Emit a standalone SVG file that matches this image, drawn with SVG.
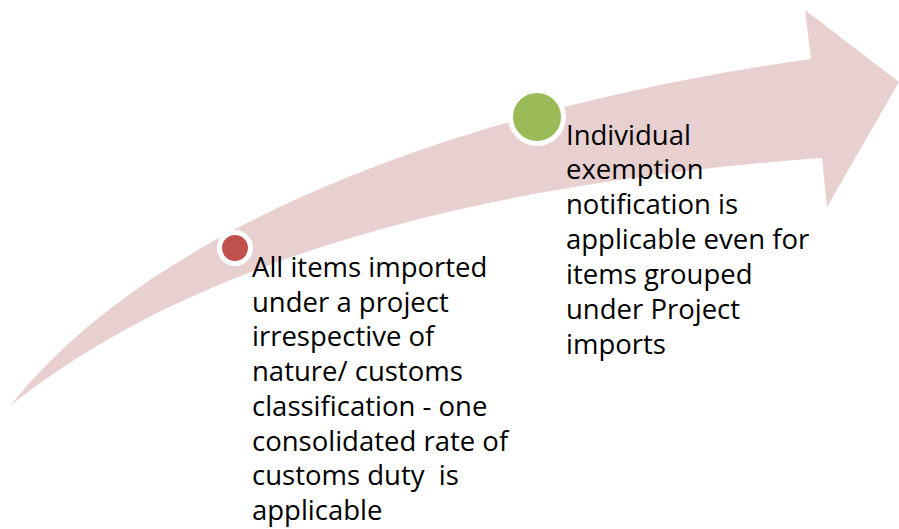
<svg xmlns="http://www.w3.org/2000/svg" width="899" height="529" viewBox="0 0 899 529">
<style>
.t{font-family:"Open Sans","Noto Sans","Liberation Sans",sans-serif;font-size:27.5px;fill:#000}
.ring{stroke:#fff;stroke-width:5}
</style>
<rect width="899" height="529" fill="#fff"/>
<g id="arrow">
<path d="M 11 405 C 150 230, 450 110, 811 59 L 805 10 L 899 82 L 827 207 L 822 158 C 450 185, 180 270, 11 405 Z" fill="#E8D0D1"/>
</g>
<g id="node1">
<circle class="ring" cx="235" cy="248" r="15.5" fill="#C0504D"/>
<text class="t" x="252" y="277">All items imported</text>
<text class="t" x="252" y="311.7">under a project</text>
<text class="t" x="252" y="346.4">irrespective of</text>
<text class="t" x="252" y="381.1">nature/ customs</text>
<text class="t" x="252" y="415.8">classification - one</text>
<text class="t" x="252" y="450.5">consolidated rate of</text>
<text class="t" x="252" y="485.2" xml:space="preserve">customs duty  is</text>
<text class="t" x="252" y="520">applicable</text>
</g>
<g id="node2">
<circle class="ring" cx="537" cy="117" r="26.5" fill="#9BBB59"/>
<text class="t" x="566" y="144.5">Individual</text>
<text class="t" x="566" y="179.4">exemption</text>
<text class="t" x="566" y="214.3">notification is</text>
<text class="t" x="566" y="249.2">applicable even for</text>
<text class="t" x="566" y="284.1">items grouped</text>
<text class="t" x="566" y="319">under Project</text>
<text class="t" x="566" y="353.9">imports</text>
</g>
<g id="connectors"></g>
</svg>
